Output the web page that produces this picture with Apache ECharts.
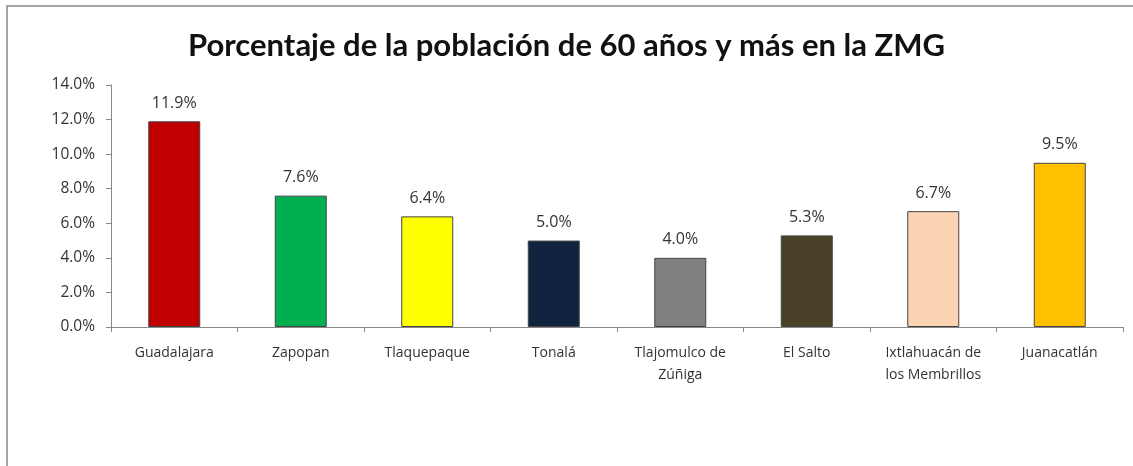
<!DOCTYPE html>
<html>
<head>
<meta charset="utf-8">
<script src="https://cdn.jsdelivr.net/npm/echarts@6/dist/echarts.min.js"></script>
<style>
html,body{margin:0;padding:0;background:#fff;}
#container{width:1133px;height:466px;}
</style>
</head>
<body>
<div id="container"></div>
<script>
// municipios de la ZMG
var categories = ['Guadalajara','Zapopan','Tlaquepaque','Tonalá','Tlajomulco de\nZúñiga','El Salto','Ixtlahuacán de\nlos Membrillos','Juanacatlán'];
var values = [11.9, 7.6, 6.4, 5.0, 4.0, 5.3, 6.7, 9.5];
var barColors = ['#C00000','#00B050','#FFFF00','#10243F','#808080','#4A4129','#FBD4B4','#FFC000'];
var yTicks = [0, 2, 4, 6, 8, 10, 12, 14];

var e = {
	init: function(){
		var myChart = echarts.init(document.getElementById('container'));
		var font = 'Open Sans';
		var data = [];
		for (var i = 0; i < values.length; i++) {
			data.push({value: values[i], itemStyle: {color: barColors[i]}});
		}
		var option = {
			backgroundColor: '#fff',
			animation: false,
			title: {
				text: 'Porcentaje de la población de 60 años y más en la ZMG',
				left: 'center',
				top: 25,
				textStyle: {fontFamily: 'Lato', fontSize: 31, fontWeight: 'bold', color: '#111'}
			},
			graphic: [{
				type: 'rect',
				shape: {x: 7, y: 6, width: 1140, height: 480},
				style: {fill: 'none', stroke: '#888', lineWidth: 1.5},
				silent: true
			}],
			grid: {left: 111, right: 10, top: 85, bottom: 139},
			xAxis: {
				type: 'category',
				data: categories,
				axisLine: {lineStyle: {color: '#888'}},
				axisTick: {show: true, alignWithLabel: false, length: 5, lineStyle: {color: '#888'}},
				axisLabel: {fontFamily: font, fontSize: 14, color: '#333', margin: 15, lineHeight: 22, interval: 0}
			},
			yAxis: {
				type: 'value',
				min: yTicks[0],
				max: yTicks[yTicks.length - 1],
				interval: 2,
				axisLine: {show: true, lineStyle: {color: '#888'}},
				axisTick: {show: true, length: 5, lineStyle: {color: '#888'}},
				splitLine: {show: false},
				axisLabel: {
					fontFamily: font, fontSize: 15.5, color: '#333', margin: 16,
					formatter: function(v){ return v.toFixed(1) + '%'; }
				}
			},
			series: [{
				type: 'bar',
				data: data,
				barWidth: 52,
				itemStyle: {borderColor: '#444', borderWidth: 1},
				label: {
					show: true,
					position: 'top',
					distance: 10,
					fontFamily: font,
					fontSize: 16,
					color: '#333',
					formatter: function(p){ return p.value.toFixed(1) + '%'; }
				}
			}]
		};
		myChart.setOption(option);
	}
};
e.init();
</script>
</body>
</html>
